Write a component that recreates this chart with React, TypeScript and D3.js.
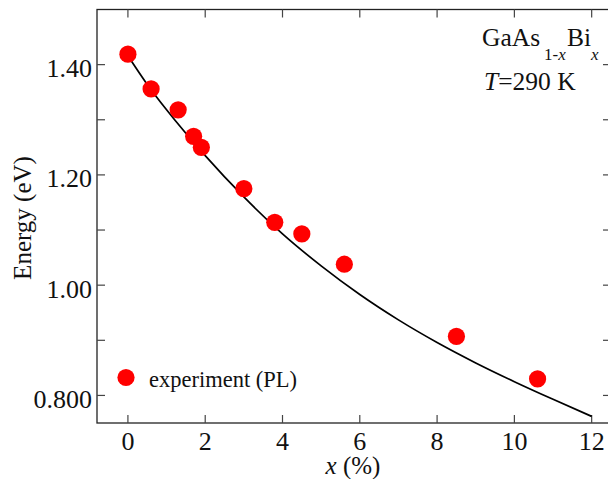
import React from "react";
import * as d3 from "d3";

const expX = [0, 0.6, 1.3, 1.7, 1.9, 3.0, 3.8, 4.5, 5.6, 8.5, 10.6];
const expE = [1.419, 1.356, 1.318, 1.27, 1.25, 1.175, 1.114, 1.093, 1.038, 0.907, 0.83];

const fitX = [0, 0.5, 1, 2, 3, 4, 5, 6, 7, 8, 9, 10, 11, 12];
const fitE = [1.416, 1.364, 1.318, 1.235, 1.16, 1.093, 1.035, 0.983, 0.937, 0.896, 0.859, 0.825, 0.793, 0.762];

const xTicks = [0, 2, 4, 6, 8, 10, 12];
const yTicks = [0.8, 1.0, 1.2, 1.4];
const yMinorTicks = [0.9, 1.1, 1.3];
const yTickLabels = ["0.800", "1.00", "1.20", "1.40"];

const W = 608;
const H = 479;
const L = 97;
const R = 611;
const T = 9.5;
const B = 423;

const FONT = "Liberation Serif, Tinos, DejaVu Serif, serif";

export default function App() {
  const x = d3.scaleLinear().domain([-0.8, 12.5]).range([L, R]);
  const y = d3.scaleLinear().domain([0.75, 1.5]).range([B, T]);
  const line = d3
    .line<number>()
    .x((_, i) => x(fitX[i]))
    .y((d) => y(d))
    .curve(d3.curveMonotoneX);
  const tickLen = 8;
  const tickColor = "#444";
  return (
    <svg width={W} height={H} style={{ position: "absolute", left: 0, top: 0 }} fontFamily={FONT}>
      <rect x={0} y={0} width={W} height={H} fill="#fff" />
      <rect x={L} y={T} width={R - L} height={B - T} fill="none" stroke="#222" strokeWidth={1.3} />
      {xTicks.map((t) => (
        <g key={"xt" + t}>
          <line x1={x(t)} x2={x(t)} y1={B} y2={B - tickLen} stroke={tickColor} strokeWidth={1.2} />
          <line x1={x(t)} x2={x(t)} y1={T} y2={T + tickLen} stroke={tickColor} strokeWidth={1.2} />
          <text x={x(t)} y={450} fontSize={26} textAnchor="middle" fill="#111" fontFamily={FONT}>
            {t}
          </text>
        </g>
      ))}
      {yTicks.concat(yMinorTicks).map((t) => (
        <g key={"yt" + t}>
          <line x1={L} x2={L + tickLen} y1={y(t)} y2={y(t)} stroke={tickColor} strokeWidth={1.2} />
          <line x1={R} x2={R - tickLen} y1={y(t)} y2={y(t)} stroke={tickColor} strokeWidth={1.2} />
        </g>
      ))}
      {yTicks.map((t, i) => (
        <text key={"yl" + t} x={92} y={y(t) + 12.5} fontSize={26} textAnchor="end" fill="#111" fontFamily={FONT}>
          {yTickLabels[i]}
        </text>
      ))}
      <text transform={`translate(31,218) rotate(-90)`} fontSize={25} textAnchor="middle" fill="#111" fontFamily={FONT}>
        Energy (eV)
      </text>
      <text x={353} y={474} fontSize={25} textAnchor="middle" fill="#111" fontFamily={FONT}>
        <tspan fontStyle="italic">x</tspan> (%)
      </text>
      <path d={line(fitE) || ""} fill="none" stroke="#000" strokeWidth={1.7} />
      {expX.map((v, i) => (
        <circle key={"p" + i} cx={x(v)} cy={y(expE[i])} r={8.6} fill="#ff0000" />
      ))}
      <circle cx={126} cy={377.5} r={8.6} fill="#ff0000" />
      <text x={149} y={387} fontSize={22.5} fill="#111" fontFamily={FONT}>
        experiment (PL)
      </text>
      <text x={482} y={46} fontSize={25.5} fill="#111" fontFamily={FONT}>
        GaAs
      </text>
      <text x={544} y={60} fontSize={17} fill="#111" fontFamily={FONT}>
        1-<tspan fontStyle="italic">x</tspan>
      </text>
      <text x={567} y={46} fontSize={25.5} fill="#111" fontFamily={FONT}>
        Bi
      </text>
      <text x={591} y={60} fontSize={17} fill="#111" fontStyle="italic" fontFamily={FONT}>
        x
      </text>
      <text x={484} y={90} fontSize={25.5} fill="#111" fontFamily={FONT}>
        <tspan fontStyle="italic">T</tspan>=290 K
      </text>
    </svg>
  );
}
